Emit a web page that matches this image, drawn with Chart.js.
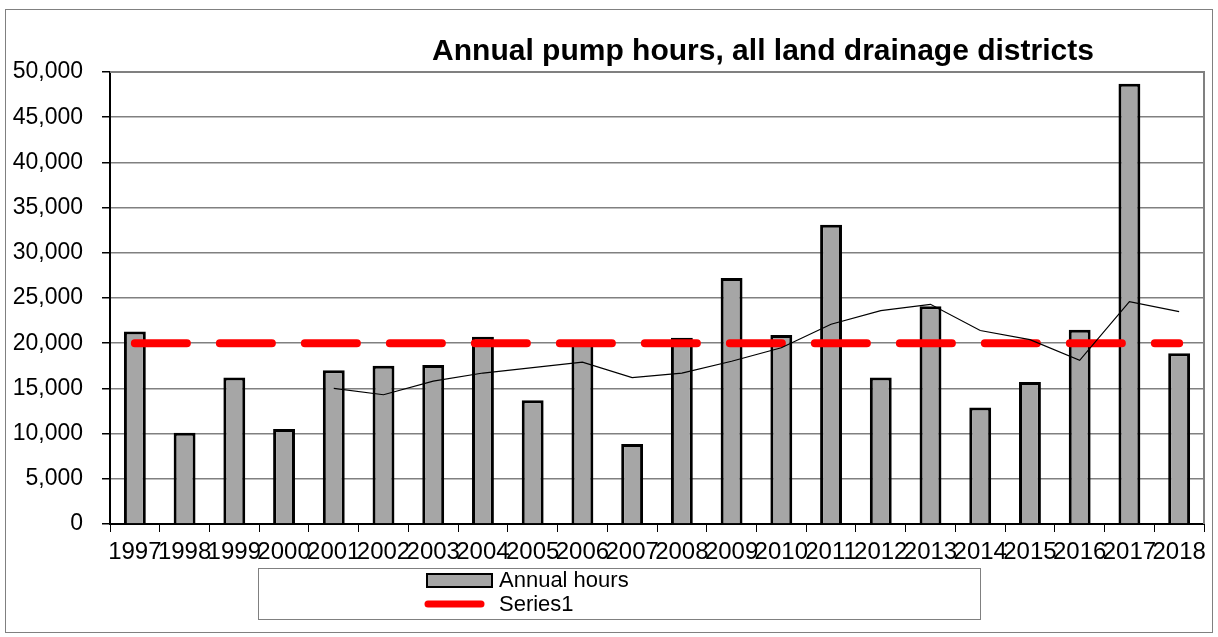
<!DOCTYPE html>
<html lang="en">

<head>
    <meta charset="UTF-8">
    <title>Annual pump hours, all land drainage districts</title>
    <script src="https://cdn.jsdelivr.net/npm/chart.js"></script>
    <style>
        html, body {
            margin: 0;
            padding: 0;
            background: #fff;
        }

        .chart-container {
            width: 1218px;
            height: 637px;
        }
    </style>
</head>

<body>
    <div class="chart-container">
        <canvas id="pumpChart"></canvas>
    </div>

    <script>
        // data
        const chartTitle = 'Annual pump hours, all land drainage districts';
        const years = ['1997', '1998', '1999', '2000', '2001', '2002', '2003', '2004', '2005', '2006', '2007',
            '2008', '2009', '2010', '2011', '2012', '2013', '2014', '2015', '2016', '2017', '2018'];
        const annualHours = [21300, 10100, 16200, 10500, 17000, 17500, 17600, 20700, 13700, 19900, 8850,
            20600, 27200, 20900, 33100, 16200, 24100, 12900, 15700, 21500, 48700, 18900];
        const series1 = [20000, 20000, 20000, 20000, 20000, 20000, 20000, 20000, 20000, 20000, 20000,
            20000, 20000, 20000, 20000, 20000, 20000, 20000, 20000, 20000, 20000, 20000];
        // 5 year moving average trend line, as drawn
        const movingAvg = [null, null, null, null, 15000, 14300, 15800, 16700, 17300, 17900, 16200,
            16700, 18000, 19500, 22100, 23600, 24300, 21400, 20400, 18100, 24600, 23500];
        const yTicks = { min: 0, max: 50000, step: 5000 };

        const fontFamily = '"Liberation Sans", Arial, sans-serif';
        Chart.defaults.font.family = fontFamily;
        Chart.defaults.color = '#000';

        // white page with the grey outer frame and plot-area border
        const framePlugin = {
            id: 'frame',
            beforeDraw(chart) {
                const ctx = chart.ctx;
                ctx.save();
                ctx.fillStyle = '#fff';
                ctx.fillRect(0, 0, chart.width, chart.height);
                ctx.strokeStyle = '#808080';
                ctx.lineWidth = 1;
                ctx.strokeRect(5.5, 9.5, 1207, 623);
                ctx.restore();
            },
            beforeDatasetsDraw(chart) {
                const a = chart.chartArea;
                const ctx = chart.ctx;
                ctx.save();
                ctx.strokeStyle = '#808080';
                ctx.lineWidth = 2;
                ctx.beginPath();
                ctx.moveTo(a.left, a.top);
                ctx.lineTo(a.right, a.top);
                ctx.lineTo(a.right, a.bottom);
                ctx.stroke();
                ctx.restore();
            }
        };

        // title sits right of centre, legend is a boxed two-row list
        const titleLegendPlugin = {
            id: 'titleLegend',
            afterDraw(chart) {
                const ctx = chart.ctx;
                const ds = chart.data.datasets;
                ctx.save();
                ctx.fillStyle = '#000';
                ctx.font = 'bold 30px ' + fontFamily;
                ctx.textAlign = 'center';
                ctx.textBaseline = 'alphabetic';
                ctx.fillText(chartTitle, 763, 60);

                ctx.strokeStyle = '#808080';
                ctx.lineWidth = 1;
                ctx.strokeRect(258.5, 568.5, 722, 51);

                ctx.fillStyle = ds[0].backgroundColor;
                ctx.fillRect(427, 574, 65, 13);
                ctx.strokeStyle = '#000';
                ctx.lineWidth = 2;
                ctx.strokeRect(427, 574, 65, 13);

                ctx.strokeStyle = ds[1].borderColor;
                ctx.lineWidth = 7;
                ctx.lineCap = 'round';
                ctx.beginPath();
                ctx.moveTo(428, 604);
                ctx.lineTo(481, 604);
                ctx.stroke();

                ctx.fillStyle = '#000';
                ctx.font = '22px ' + fontFamily;
                ctx.textAlign = 'left';
                ctx.textBaseline = 'middle';
                ctx.fillText(ds[0].label, 499, 581);
                ctx.fillText(ds[1].label, 499, 605);
                ctx.restore();
            }
        };

        const ctx = document.getElementById('pumpChart').getContext('2d');
        new Chart(ctx, {
            type: 'bar',
            data: {
                labels: years,
                datasets: [{
                    type: 'bar',
                    label: 'Annual hours',
                    data: annualHours,
                    backgroundColor: '#a6a6a6',
                    borderColor: '#000',
                    borderWidth: 3,
                    barPercentage: 0.44,
                    categoryPercentage: 1,
                    order: 3
                }, {
                    type: 'line',
                    label: 'Series1',
                    data: series1,
                    borderColor: '#ff0000',
                    borderWidth: 8,
                    borderDash: [52, 33],
                    borderCapStyle: 'round',
                    pointRadius: 0,
                    fill: false,
                    order: 2
                }, {
                    type: 'line',
                    label: '5 per. Mov. Avg. (Annual hours)',
                    data: movingAvg,
                    borderColor: '#000',
                    borderWidth: 1.2,
                    pointRadius: 0,
                    fill: false,
                    tension: 0,
                    order: 1
                }]
            },
            options: {
                responsive: true,
                maintainAspectRatio: false,
                animation: false,
                layout: {
                    padding: { left: 0, top: 72, right: 14, bottom: 68 }
                },
                plugins: {
                    legend: { display: false },
                    title: { display: false },
                    tooltip: { enabled: false }
                },
                scales: {
                    x: {
                        offset: true,
                        grid: {
                            offset: true,
                            drawOnChartArea: false,
                            tickLength: 8,
                            color: '#000',
                            lineWidth: 1
                        },
                        border: { color: '#000', width: 2 },
                        ticks: {
                            autoSkip: false,
                            maxRotation: 0,
                            minRotation: 0,
                            padding: 6,
                            font: { size: 24 }
                        },
                        afterFit(scale) {
                            scale.height = 45;
                        }
                    },
                    y: {
                        min: yTicks.min,
                        max: yTicks.max,
                        grid: {
                            color: '#808080',
                            lineWidth: 1.5,
                            tickLength: 8,
                            tickColor: '#000'
                        },
                        border: { color: '#000', width: 2 },
                        ticks: {
                            stepSize: yTicks.step,
                            padding: 19,
                            font: { size: 23 },
                            callback: v => v.toLocaleString('en-US')
                        },
                        afterFit(scale) {
                            scale.width = 110;
                        }
                    }
                }
            },
            plugins: [framePlugin, titleLegendPlugin]
        });
    </script>
</body>

</html>
